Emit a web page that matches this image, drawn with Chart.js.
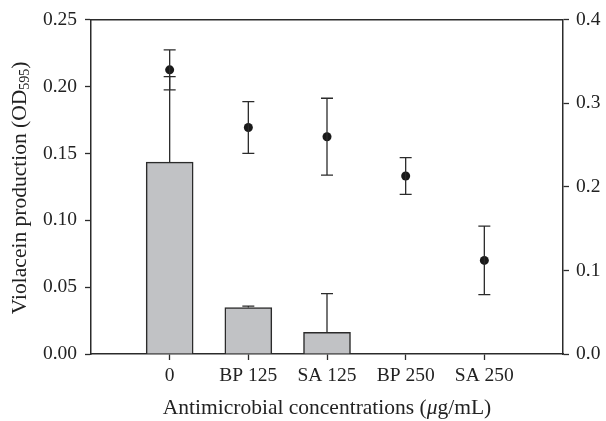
<!DOCTYPE html>
<html>
<head>
<meta charset="utf-8">
<script src="https://cdn.jsdelivr.net/npm/chart.js@4"></script>
<style>
html,body{margin:0;padding:0;background:#fff;}
#wrap{width:606px;height:421px;position:relative;}
</style>
</head>
<body>
<div id="wrap"><canvas id="c" width="606" height="421"></canvas></div>
<script>
const categories = ['0', 'BP 125', 'SA 125', 'BP 250', 'SA 250'];
const violacein = [0.1435, 0.0348, 0.0162, 0, 0];          // bars, left axis (OD595)
const violaceinErr = [0.064, 0.001, 0.029, 0, 0];          // upper error of bars
const secondSeries = [0.340, 0.271, 0.260, 0.213, 0.112];  // points, right axis
const secondErr = [0.024, 0.031, 0.046, 0.022, 0.041];     // symmetric error of points
const leftTicks = [0, 0.05, 0.10, 0.15, 0.20, 0.25];
const rightTicks = [0, 0.1, 0.2, 0.3, 0.4];

const labels = [''].concat(categories, ['']);
const pad = arr => [null].concat(arr, [null]);

const FONT = "'Liberation Serif', 'Times New Roman', serif";
const AX = '#2b2b2b';
const TICK_FS = 19.5;
const TITLE_FS = 21.5;

const drawPlugin = {
  id: 'extras',
  afterDatasetsDraw(chart) {
    const ctx = chart.ctx;
    const x = chart.scales.x, y = chart.scales.y, y2 = chart.scales.y2;
    const ca = chart.chartArea;
    ctx.save();
    ctx.strokeStyle = AX;
    ctx.lineWidth = 1.3;
    const cap = 6;
    // bar error bars (upper only)
    categories.forEach((c, i) => {
      const e = violaceinErr[i];
      if (!e) return;
      const px = x.getPixelForValue(i + 1);
      const yT = y.getPixelForValue(violacein[i]);
      const yE = y.getPixelForValue(violacein[i] + e);
      ctx.beginPath();
      ctx.moveTo(px, yT); ctx.lineTo(px, yE);
      ctx.moveTo(px - cap, yE); ctx.lineTo(px + cap, yE);
      ctx.stroke();
    });
    // point error bars
    categories.forEach((c, i) => {
      const px = x.getPixelForValue(i + 1);
      const yH = y2.getPixelForValue(secondSeries[i] + secondErr[i]);
      const yL = y2.getPixelForValue(secondSeries[i] - secondErr[i]);
      ctx.beginPath();
      ctx.moveTo(px, yH); ctx.lineTo(px, yL);
      ctx.moveTo(px - cap, yH); ctx.lineTo(px + cap, yH);
      ctx.moveTo(px - cap, yL); ctx.lineTo(px + cap, yL);
      ctx.stroke();
    });
    // top border
    ctx.lineWidth = 1.5;
    ctx.beginPath();
    ctx.moveTo(ca.left, ca.top); ctx.lineTo(ca.right, ca.top);
    ctx.stroke();
    ctx.restore();
  },
  afterDraw(chart) {
    const ctx = chart.ctx;
    const ca = chart.chartArea;
    ctx.save();
    ctx.fillStyle = '#222';
    ctx.textBaseline = 'middle';
    // x title
    const fs = TITLE_FS;
    const p1 = 'Antimicrobial concentrations (', p2 = 'μ', p3 = 'g/mL)';
    ctx.font = fs + 'px ' + FONT;
    const w1 = ctx.measureText(p1).width, w3 = ctx.measureText(p3).width;
    ctx.font = 'italic ' + fs + 'px ' + FONT;
    const w2 = ctx.measureText(p2).width;
    let sx = (ca.left + ca.right) / 2 - (w1 + w2 + w3) / 2;
    const ty = 408;
    ctx.textAlign = 'left';
    ctx.font = fs + 'px ' + FONT; ctx.fillText(p1, sx, ty); sx += w1;
    ctx.font = 'italic ' + fs + 'px ' + FONT; ctx.fillText(p2, sx, ty); sx += w2;
    ctx.font = fs + 'px ' + FONT; ctx.fillText(p3, sx, ty);
    // y title with subscript
    const q1 = 'Violacein production (OD', q2 = '595', q3 = ')';
    const sfs = 14;
    ctx.font = fs + 'px ' + FONT;
    const v1 = ctx.measureText(q1).width, v3 = ctx.measureText(q3).width;
    ctx.font = sfs + 'px ' + FONT;
    const v2 = ctx.measureText(q2).width;
    const total = v1 + v2 + v3;
    ctx.translate(20, (ca.top + ca.bottom) / 2 + 1);
    ctx.rotate(-Math.PI / 2);
    let s = -total / 2;
    ctx.font = fs + 'px ' + FONT; ctx.fillText(q1, s, 0); s += v1;
    ctx.font = sfs + 'px ' + FONT; ctx.fillText(q2, s, 5); s += v2;
    ctx.font = fs + 'px ' + FONT; ctx.fillText(q3, s, 0);
    ctx.restore();
  }
};

new Chart(document.getElementById('c'), {
  type: 'bar',
  data: {
    labels: labels,
    datasets: [
      {
        type: 'bar',
        data: pad(violacein),
        yAxisID: 'y',
        backgroundColor: '#c1c2c5',
        borderColor: AX,
        borderWidth: 1.5,
        borderSkipped: 'bottom',
        barThickness: 47,
        order: 2
      },
      {
        type: 'line',
        data: pad(secondSeries),
        yAxisID: 'y2',
        showLine: false,
        pointRadius: 4.5,
        pointHoverRadius: 4.5,
        pointBackgroundColor: '#1a1a1a',
        pointBorderColor: '#1a1a1a',
        pointBorderWidth: 0,
        order: 1
      }
    ]
  },
  options: {
    responsive: false,
    animation: false,
    events: [],
    layout: { padding: { top: 19, left: 0, right: 0, bottom: 0 } },
    plugins: { legend: { display: false }, tooltip: { enabled: false } },
    scales: {
      x: {
        offset: false,
        grid: {
          offset: false,
          drawOnChartArea: false,
          tickLength: 6,
          tickWidth: 1.3,
          tickColor: c => (c.tick && c.tick.label !== '' ? AX : 'rgba(0,0,0,0)')
        },
        border: { color: AX, width: 1.5 },
        ticks: { color: '#222', font: { family: FONT, size: TICK_FS }, padding: 4, maxRotation: 0, autoSkip: false },
        afterFit: s => { s.height = 67; }
      },
      y: {
        position: 'left',
        min: 0, max: 0.25,
        afterBuildTicks: s => { s.ticks = leftTicks.map(v => ({ value: v })); },
        grid: { drawOnChartArea: false, tickLength: 6, tickWidth: 1.3, tickColor: AX },
        border: { color: AX, width: 1.5 },
        ticks: { color: '#222', font: { family: FONT, size: TICK_FS }, padding: 8, callback: v => v.toFixed(2) },
        afterFit: s => { s.width = 91; }
      },
      y2: {
        position: 'right',
        min: 0, max: 0.4,
        afterBuildTicks: s => { s.ticks = rightTicks.map(v => ({ value: v })); },
        grid: { drawOnChartArea: false, tickLength: 6, tickWidth: 1.3, tickColor: AX },
        border: { color: AX, width: 1.5 },
        ticks: { color: '#222', font: { family: FONT, size: TICK_FS }, padding: 7, callback: v => v.toFixed(1) },
        afterFit: s => { s.width = 43; }
      }
    }
  },
  plugins: [drawPlugin]
});
</script>
</body>
</html>
